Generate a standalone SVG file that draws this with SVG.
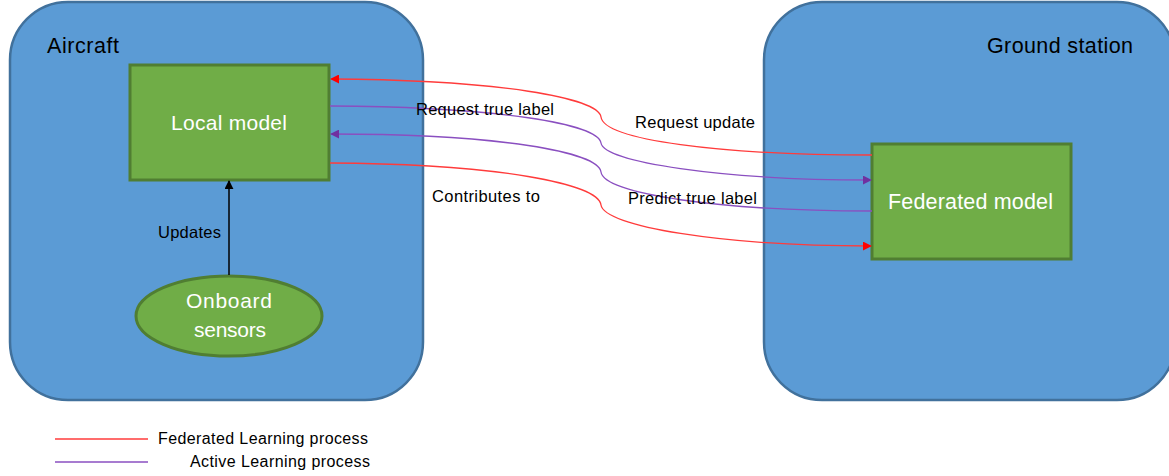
<svg xmlns="http://www.w3.org/2000/svg" width="1169" height="476" viewBox="0 0 1169 476">
<defs>
<style>
.container{fill:#5B9BD5;stroke:#41719C;stroke-width:2.5}
.node{fill:#70AD47;stroke:#507E32;stroke-width:3}
.t{font-family:"Liberation Sans",Arial,sans-serif;}
.w{fill:#FFFFFF}
.k{fill:#000000}
.red{fill:none;stroke:#FF3B3B;stroke-width:1.3}
.pur{fill:none;stroke:#8A4FC0;stroke-width:1.3}
</style>
<marker id="ar" viewBox="0 0 10 10" refX="9" refY="5" markerWidth="9" markerHeight="9" markerUnits="userSpaceOnUse" orient="auto"><path d="M0,0 L10,5 L0,10 z" fill="#FF0000"/></marker>
<marker id="ap" viewBox="0 0 10 10" refX="9" refY="5" markerWidth="9" markerHeight="9" markerUnits="userSpaceOnUse" orient="auto"><path d="M0,0 L10,5 L0,10 z" fill="#7030A0"/></marker>
<marker id="ak" viewBox="0 0 10 10" refX="9" refY="5" markerWidth="9" markerHeight="9" markerUnits="userSpaceOnUse" orient="auto"><path d="M0,0 L10,5 L0,10 z" fill="#000000"/></marker>
</defs>
<rect width="1169" height="476" fill="#FFFFFF"/>
<g id="aircraft">
<rect class="container" x="10" y="2" width="413" height="398" rx="58" ry="58"/>
<text class="t k" x="47" y="53" font-size="21.5" textLength="72" lengthAdjust="spacing">Aircraft</text>
</g>
<g id="ground-station">
<rect class="container" x="764" y="2" width="411" height="398" rx="58" ry="58"/>
<text class="t k" x="987" y="53" font-size="21.5" textLength="146" lengthAdjust="spacing">Ground station</text>
</g>
<g id="local-model">
<rect class="node" x="130" y="65" width="199" height="115"/>
<text class="t w" x="171" y="130" font-size="21" textLength="116" lengthAdjust="spacing">Local model</text>
</g>
<g id="federated-model">
<rect class="node" x="872" y="144" width="199" height="115"/>
<text class="t w" x="888" y="209" font-size="21.5" textLength="165" lengthAdjust="spacing">Federated model</text>
</g>
<g id="onboard-sensors">
<ellipse class="node" cx="229" cy="316" rx="93" ry="40"/>
<text class="t w" x="186" y="308" font-size="21" textLength="86" lengthAdjust="spacing">Onboard</text>
<text class="t w" x="194" y="337" font-size="21" textLength="72" lengthAdjust="spacing">sensors</text>
</g>
<g id="connectors">
<path d="M229,275 L229,181" fill="none" stroke="#000" stroke-width="1.5" marker-end="url(#ak)"/>
<path class="red" d="M872,155 C720,155 604,140 601,117 C598,98 500,80 331,79" marker-end="url(#ar)"/>
<path class="pur" d="M330,106 C500,107 598,124 601,143 C604,162 720,180 871,180" marker-end="url(#ap)"/>
<path class="pur" d="M872,211 C720,211 604,194 601,172 C598,152 500,134 331,134" marker-end="url(#ap)"/>
<path class="red" d="M330,163 C500,164 598,184 601,205 C604,226 720,246 871,246" marker-end="url(#ar)"/>
</g>
<g id="labels">
<text class="t k" x="158" y="238" font-size="16.5" textLength="63" lengthAdjust="spacing">Updates</text>
<text class="t k" x="416" y="115" font-size="16.5" textLength="138" lengthAdjust="spacing">Request true label</text>
<text class="t k" x="635" y="128" font-size="16.5" textLength="120" lengthAdjust="spacing">Request update</text>
<text class="t k" x="628" y="204" font-size="16.5" textLength="129" lengthAdjust="spacing">Predict true label</text>
<text class="t k" x="432" y="202" font-size="16.5" textLength="108" lengthAdjust="spacing">Contributes to</text>
</g>
<g id="legend">
<line x1="55" y1="439" x2="148" y2="439" class="red"/>
<line x1="55" y1="462" x2="148" y2="462" class="pur"/>
<text class="t k" x="158" y="444" font-size="16" textLength="210" lengthAdjust="spacing">Federated Learning process</text>
<text class="t k" x="190" y="467" font-size="16" textLength="180" lengthAdjust="spacing">Active Learning process</text>
</g>
</svg>
